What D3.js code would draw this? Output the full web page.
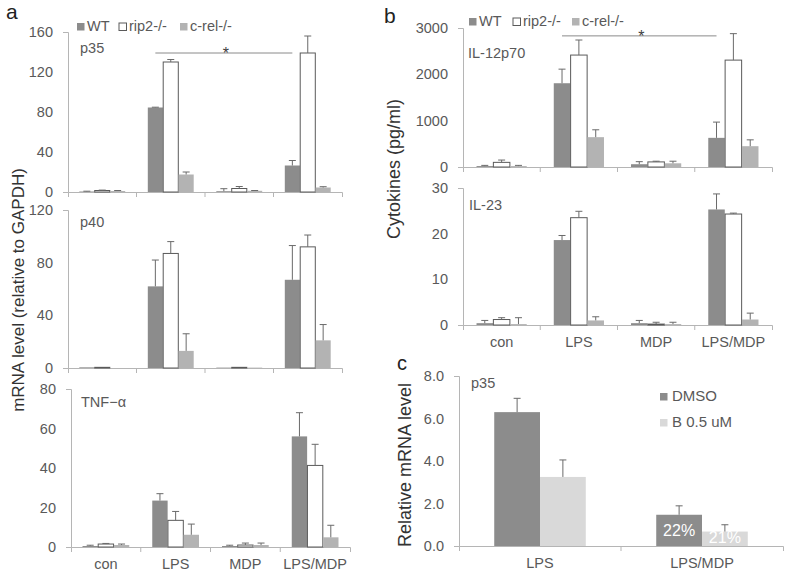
<!DOCTYPE html>
<html>
<head>
<meta charset="utf-8">
<script src="https://cdn.jsdelivr.net/npm/d3@7"></script>
<style>
body { margin: 0; background: #fff; }
</style>
</head>
<body>
<div id="chart"></div>
<script>
// categories
var groups = ["con", "LPS", "MDP", "LPS/MDP"];
var strains = ["WT", "rip2-/-", "c-rel-/-"];
var cGroups = ["LPS", "LPS/MDP"];
var treatments = ["DMSO", "B 0.5 uM"];

// panel a (rows = WT, rip2-/-, c-rel-/-; cols = groups)
var p35Mean = [[0.5, 84.5, 0.8, 26.5], [1.5, 130, 3.5, 139], [1, 17.5, 1.2, 4.5]];
var p35Err  = [[0.3, 0.3, 2.5, 5], [0.4, 2.5, 2, 17], [0.5, 2.5, 0.3, 0.8]];
var p40Mean = [[0.5, 62, 0.3, 67], [0.5, 87, 0.5, 92], [0, 13, 0.3, 21]];
var p40Err  = [[0, 20, 0, 26], [0, 9, 0, 9], [0, 13, 0, 12]];
var tnfMean = [[0.5, 23.5, 0.5, 56], [1.5, 13.5, 1, 41.3], [1, 6.2, 1, 4.9]];
var tnfErr  = [[0.4, 3.5, 0.4, 12], [0.3, 4.5, 1, 10.7], [0.5, 5.4, 1, 6.1]];

// panel b
var il12Mean = [[20, 1808, 60, 629], [100, 2416, 110, 2307], [20, 644, 80, 449]];
var il12Err  = [[15, 304, 55, 340], [50, 325, 15, 571], [15, 159, 45, 137]];
var il23Mean = [[0.4, 18.6, 0.4, 25.3], [1.2, 23.5, 0.2, 24.3], [0.2, 1, 0.2, 1.2]];
var il23Err  = [[0.6, 1, 0.6, 3.4], [0.4, 1.4, 0.4, 0.2], [1.4, 0.8, 0.4, 1.4]];

// panel c (rows = DMSO, B 0.5 uM; cols = cGroups)
var cMean = [[6.3, 1.47], [3.25, 0.68]];
var cErr  = [[0.65, 0.42], [0.8, 0.32]];
var cPct  = [["", "22%"], ["", "21%"]];

// tick labels
var p35Ticks = [0, 40, 80, 120, 160];
var p40Ticks = [0, 40, 80, 120];
var tnfTicks = [0, 20, 40, 60, 80];
var il12Ticks = [0, 1000, 2000, 3000];
var il23Ticks = [0, 10, 20, 30];
var cTicks = [0, 2, 4, 6, 8];

// significance bars (value on the panel's y scale)
var p35Sig = 139;
var il12Sig = 2830;

var FONT = "'Liberation Sans', Arial, sans-serif";
var TXT = "#595959";
var AXIS = "#b5b5b5";
var strainFill = ["#8c8c8c", "#ffffff", "#b3b3b3"];
var strainStroke = ["none", "#5a5a5a", "none"];
var treatFill = ["#8c8c8c", "#d9d9d9"];

var svg = d3.select("#chart")
    .append("svg")
    .attr("width", 787)
    .attr("height", 576)
    .style("font-family", FONT);

function drawBars(o) {
    var g = svg.append("g");
    var x0 = d3.scaleBand().domain(o.cats).range([o.left, o.right]);
    var bw = x0.bandwidth();
    var x1 = d3.scaleBand().domain(o.series)
        .range([bw * o.pad, bw * (1 - o.pad)])
        .paddingInner(o.gap);
    var y = d3.scaleLinear().domain([0, o.max]).range([o.bottom, o.top]);

    // y axis, outer ticks only at the ends
    var yAxis = d3.axisLeft(y)
        .tickValues(o.ticks)
        .tickFormat(o.fmt)
        .tickSizeInner(0)
        .tickSizeOuter(5)
        .tickPadding(15);
    var ya = g.append("g")
        .attr("transform", "translate(" + o.left + ",0)")
        .call(yAxis)
        .attr("font-family", FONT)
        .attr("font-size", 14.5);
    ya.select(".domain").attr("stroke", AXIS);
    ya.selectAll("text").attr("fill", TXT);

    // x axis
    var xAxis = d3.axisBottom(x0)
        .tickSizeInner(0)
        .tickSizeOuter(5)
        .tickPadding(12)
        .tickFormat(o.labels ? null : function() { return ""; });
    var xa = g.append("g")
        .attr("transform", "translate(0," + o.bottom + ")")
        .call(xAxis)
        .attr("font-family", FONT)
        .attr("font-size", 14.5);
    xa.select(".domain").attr("stroke", AXIS);
    xa.selectAll("text").attr("fill", TXT);
    // category dividers
    xa.selectAll(".divider")
        .data(o.cats.slice(1))
        .join("line")
        .attr("class", "divider")
        .attr("x1", function(d) { return x0(d); })
        .attr("x2", function(d) { return x0(d); })
        .attr("y1", 0)
        .attr("y2", 5)
        .attr("stroke", AXIS);

    var rows = [];
    o.series.forEach(function(s, i) {
        o.cats.forEach(function(c, j) {
            rows.push({ s: s, i: i, c: c, v: o.mean[i][j], e: o.err[i][j], t: o.pct ? o.pct[i][j] : "" });
        });
    });

    g.selectAll(".bar")
        .data(rows)
        .join("rect")
        .attr("class", "bar")
        .attr("x", function(d) { return x0(d.c) + x1(d.s); })
        .attr("y", function(d) { return y(d.v); })
        .attr("width", x1.bandwidth())
        .attr("height", function(d) { return y(0) - y(d.v); })
        .attr("fill", function(d) { return o.fill[d.i]; })
        .attr("stroke", function(d) { return o.stroke ? o.stroke[d.i] : "none"; })
        .attr("stroke-width", 1);

    var eb = rows.filter(function(d) { return d.e > 0; });
    var cx = function(d) { return x0(d.c) + x1(d.s) + x1.bandwidth() / 2; };
    g.selectAll(".err")
        .data(eb)
        .join("path")
        .attr("class", "err")
        .attr("d", function(d) {
            var x = cx(d), yt = y(d.v + d.e);
            return "M" + x + "," + y(d.v) + "V" + yt + "M" + (x - 3.5) + "," + yt + "H" + (x + 3.5);
        })
        .attr("fill", "none")
        .attr("stroke", "#6a6a6a")
        .attr("stroke-width", 1);

    // percentage labels inside bars
    g.selectAll(".pct")
        .data(rows.filter(function(d) { return d.t; }))
        .join("text")
        .attr("class", "pct")
        .attr("x", cx)
        .attr("y", function(d) { return y(0) - (d.i === 0 ? 10 : 3); })
        .attr("text-anchor", "middle")
        .attr("fill", "#fff")
        .attr("font-size", 16)
        .text(function(d) { return d.t; });

    // panel name
    g.append("text")
        .attr("x", o.left + o.nameDx)
        .attr("y", o.top + o.nameDy)
        .attr("fill", TXT)
        .attr("font-size", 14.5)
        .text(o.name);

    // significance bar from WT LPS to WT LPS/MDP
    if (o.sig != null) {
        var a = { c: "LPS", s: o.series[0] }, b = { c: "LPS/MDP", s: o.series[0] };
        var ys = y(o.sig);
        g.append("line")
            .attr("x1", cx(a)).attr("x2", cx(b))
            .attr("y1", ys).attr("y2", ys)
            .attr("stroke", "#8a8a8a");
        g.append("text")
            .attr("x", (cx(a) + cx(b)) / 2 + 2)
            .attr("y", ys + 6)
            .attr("text-anchor", "middle")
            .attr("font-size", 16)
            .attr("fill", "#404040")
            .text("*");
    }
    return g;
}

function legend(items, xs, y, fills, strokes, size) {
    var g = svg.append("g");
    items.forEach(function(t, i) {
        g.append("rect")
            .attr("x", xs[i]).attr("y", y - 8)
            .attr("width", 7.5).attr("height", 7.5)
            .attr("fill", fills[i])
            .attr("stroke", strokes[i] === "none" ? "none" : "#5a5a5a");
        g.append("text")
            .attr("x", xs[i] + 10).attr("y", y)
            .attr("font-size", size)
            .attr("fill", TXT)
            .text(t);
    });
}

var intFmt = d3.format("d");

// ---- panel a
drawBars({ cats: groups, series: strains, mean: p35Mean, err: p35Err, max: 160, ticks: p35Ticks, fmt: intFmt,
    left: 68, right: 342, top: 32, bottom: 192, pad: 0.165, gap: 0.02, fill: strainFill, stroke: strainStroke,
    labels: false, name: "p35", nameDx: 12, nameDy: 21, sig: p35Sig });
drawBars({ cats: groups, series: strains, mean: p40Mean, err: p40Err, max: 120, ticks: p40Ticks, fmt: intFmt,
    left: 68, right: 342, top: 210, bottom: 368, pad: 0.165, gap: 0.02, fill: strainFill, stroke: strainStroke,
    labels: false, name: "p40", nameDx: 12, nameDy: 17 });
drawBars({ cats: groups, series: strains, mean: tnfMean, err: tnfErr, max: 80, ticks: tnfTicks, fmt: intFmt,
    left: 71, right: 350, top: 389, bottom: 547, pad: 0.165, gap: 0.02, fill: strainFill, stroke: strainStroke,
    labels: true, name: "TNF\u2212\u03b1", nameDx: 10, nameDy: 18 });
legend(strains, [77, 119, 180], 31, strainFill, strainStroke, 14.5);

// ---- panel b
drawBars({ cats: groups, series: strains, mean: il12Mean, err: il12Err, max: 3000, ticks: il12Ticks, fmt: intFmt,
    left: 463, right: 772, top: 28, bottom: 167, pad: 0.175, gap: 0.02, fill: strainFill, stroke: strainStroke,
    labels: false, name: "IL-12p70", nameDx: 5, nameDy: 30, sig: il12Sig });
drawBars({ cats: groups, series: strains, mean: il23Mean, err: il23Err, max: 30, ticks: il23Ticks, fmt: intFmt,
    left: 463, right: 772, top: 188, bottom: 325, pad: 0.175, gap: 0.02, fill: strainFill, stroke: strainStroke,
    labels: true, name: "IL-23", nameDx: 6, nameDy: 22 });
legend(strains, [469, 513, 572], 26, strainFill, strainStroke, 14.5);

// ---- panel c
drawBars({ cats: cGroups, series: treatments, mean: cMean, err: cErr, pct: cPct, max: 8, ticks: cTicks, fmt: d3.format(".1f"),
    left: 459, right: 783, top: 376, bottom: 546, pad: 0.2175, gap: 0, fill: treatFill,
    labels: true, name: "p35", nameDx: 12, nameDy: 12 });
var lc = svg.append("g");
treatments.forEach(function(t, i) {
    lc.append("rect").attr("x", 660).attr("y", 393 + i * 26).attr("width", 7.5).attr("height", 7.5).attr("fill", treatFill[i]);
    lc.append("text").attr("x", 672).attr("y", 401 + i * 26).attr("font-size", 15).attr("fill", TXT).text(t);
});

// axis titles and panel letters
svg.append("text")
    .attr("transform", "translate(18,290) rotate(-90)")
    .attr("dy", "0.35em")
    .attr("text-anchor", "middle")
    .attr("font-size", 17)
    .attr("fill", "#333")
    .text("mRNA level (relative to GAPDH)");
svg.append("text")
    .attr("transform", "translate(394,169) rotate(-90)")
    .attr("dy", "0.35em")
    .attr("text-anchor", "middle")
    .attr("font-size", 18)
    .attr("fill", "#333")
    .text("Cytokines (pg/ml)");
svg.append("text")
    .attr("transform", "translate(405,465) rotate(-90)")
    .attr("dy", "0.35em")
    .attr("text-anchor", "middle")
    .attr("font-size", 18)
    .attr("fill", "#333")
    .text("Relative mRNA level");

svg.append("text").attr("x", 6).attr("y", 19).attr("font-size", 21).attr("fill", "#222").text("a");
svg.append("text").attr("x", 384).attr("y", 23).attr("font-size", 21).attr("fill", "#222").text("b");
svg.append("text").attr("x", 397).attr("y", 370).attr("font-size", 20).attr("fill", "#222").text("c");
</script>
</body>
</html>
